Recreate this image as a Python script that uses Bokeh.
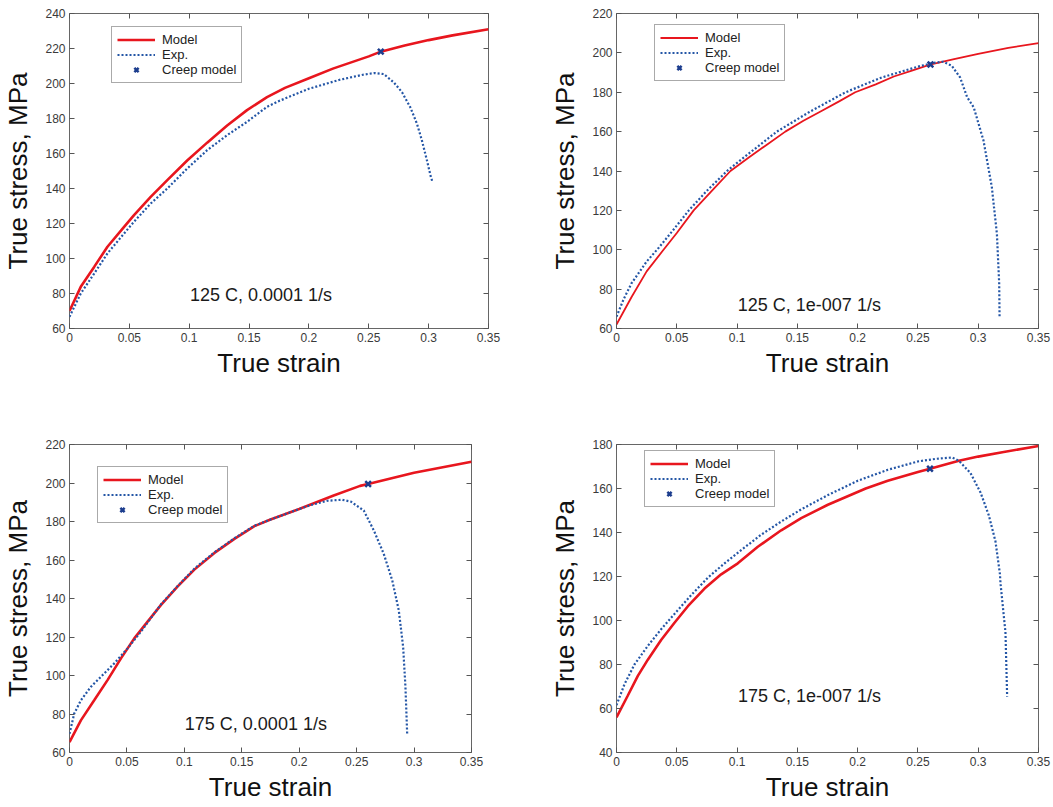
from bokeh.plotting import figure
from bokeh.models import (Range1d, FixedTicker, LinearAxis, Legend, LegendItem,
                          Label, CustomJSTickFormatter, CustomLabelingPolicy)
from bokeh.layouts import column, row
from bokeh.embed import file_html
from bokeh.resources import INLINE

# ---------------- data ----------------
x_ticks = [0, 0.05, 0.1, 0.15, 0.2, 0.25, 0.3, 0.35]

# Panel 1: 125 C, 0.0001 1/s
m1_x = [0, 0.0094, 0.0206, 0.0317, 0.0456, 0.0539, 0.0678, 0.0817, 0.0983, 0.115, 0.1317, 0.1483, 0.165, 0.18, 0.2, 0.22, 0.25, 0.26, 0.28, 0.3, 0.32, 0.35]
m1_y = [70, 83.8, 95.2, 106.7, 118.1, 124.8, 135.2, 144.8, 156, 166.2, 176, 184.8, 192.2, 197.5, 203, 208.5, 215.5, 218.2, 221.7, 224.8, 227.5, 231]
e1_x = [0, 0.0094, 0.0206, 0.0317, 0.0456, 0.0539, 0.0678, 0.0817, 0.0983, 0.115, 0.1317, 0.1483, 0.165, 0.175, 0.2, 0.225, 0.245, 0.255, 0.2625, 0.2708, 0.2778, 0.2847, 0.2903, 0.2944, 0.2986, 0.3019, 0.3033]
e1_y = [66.7, 80, 91.4, 102.9, 114.3, 121, 131.4, 140, 151.4, 161.9, 170.5, 178.1, 186.7, 190, 197, 202, 205, 206, 205.4, 200.7, 195, 186.4, 176.9, 167.4, 156, 146.5, 143.6]
c1 = (0.26, 218.2)

# Panel 2: 125 C, 1e-007 1/s
m2_x = [0, 0.0125, 0.025, 0.039, 0.05, 0.064, 0.08, 0.0945, 0.11, 0.125, 0.14, 0.155, 0.17, 0.185, 0.198, 0.215, 0.23, 0.245, 0.26, 0.28, 0.3, 0.325, 0.35]
m2_y = [62, 76, 89, 100, 108.5, 120, 130.5, 140, 147, 153.5, 160, 165.5, 170.5, 175.5, 180, 184, 188, 191, 194, 196.8, 199.5, 202.5, 205]
e2_x = [0, 0.006, 0.0125, 0.025, 0.035, 0.047, 0.06, 0.075, 0.0917, 0.11, 0.133, 0.16, 0.19, 0.22, 0.25, 0.262, 0.271, 0.278, 0.285, 0.2908, 0.2963, 0.3044, 0.3113, 0.3155, 0.3174, 0.3177]
e2_y = [66, 75, 83, 94, 101, 110, 120, 130, 140, 149, 160, 170, 180, 187.5, 193, 194.8, 195.5, 193.5, 187.5, 177.5, 172.3, 155.4, 131.8, 108.1, 82.8, 66.2]
c2 = (0.2604, 194.1)

# Panel 3: 175 C, 0.0001 1/s
m3_x = [0, 0.0099, 0.0215, 0.0331, 0.0448, 0.0564, 0.068, 0.0797, 0.0942, 0.1087, 0.1262, 0.1436, 0.161, 0.175, 0.2, 0.23, 0.253, 0.26, 0.3, 0.35]
m3_y = [65.4, 76.7, 87.1, 97.6, 108.9, 119.3, 128, 136.7, 146.3, 155, 163.7, 171, 177.6, 181, 186.5, 193.5, 198.5, 199.5, 205.3, 211]
e3_x = [0, 0.0041, 0.0099, 0.0186, 0.0273, 0.039, 0.0506, 0.0622, 0.0797, 0.0942, 0.1087, 0.1262, 0.1436, 0.161, 0.175, 0.2, 0.21, 0.225, 0.2374, 0.245, 0.2562, 0.265, 0.2736, 0.281, 0.2867, 0.2905, 0.2925, 0.294]
e3_y = [69.7, 80.2, 87.1, 94.1, 99.3, 106.3, 114.1, 122.8, 137, 146.5, 155.5, 164, 171.3, 177.8, 181, 186.5, 188.5, 190.8, 191.3, 190.3, 185.7, 175.3, 163.2, 149.4, 133.8, 114.7, 93.9, 69.7]
c3 = (0.26, 199.5)

# Panel 4: 175 C, 1e-007 1/s
m4_x = [0, 0.0094, 0.0177, 0.026, 0.037, 0.0481, 0.0592, 0.073, 0.0868, 0.1006, 0.1172, 0.1366, 0.1532, 0.1753, 0.2067, 0.225, 0.25, 0.26, 0.284, 0.3, 0.32, 0.35]
m4_y = [56, 65.9, 74.8, 82.2, 91.1, 99, 106.5, 114.5, 121, 126, 133.5, 141, 146.5, 152.6, 160, 163.5, 167.5, 169, 172.6, 174.5, 176.5, 179.3]
e4_x = [0, 0.0066, 0.0149, 0.026, 0.037, 0.0481, 0.0619, 0.0758, 0.0896, 0.1034, 0.12, 0.1366, 0.1532, 0.1753, 0.2, 0.225, 0.25, 0.265, 0.2784, 0.284, 0.2936, 0.3019, 0.3088, 0.3143, 0.318, 0.3185, 0.3226, 0.324]
e4_y = [61.5, 71, 80, 88.5, 96, 103, 111.5, 119.5, 126, 132, 139, 145, 150.5, 157, 163.5, 168.5, 172.3, 173.5, 174.1, 172.6, 167, 158.2, 147.8, 136, 121.2, 116.8, 94.6, 65.4]
c4 = (0.26, 169)

y1_ticks = list(range(60, 241, 20))
y2_ticks = list(range(60, 221, 20))
y3_ticks = list(range(60, 221, 20))
y4_ticks = list(range(40, 181, 20))

conditions = ["125 C, 0.0001 1/s", "125 C, 1e-007 1/s", "175 C, 0.0001 1/s", "175 C, 1e-007 1/s"]
legend_labels = ["Model", "Exp.", "Creep model"]

# ---------------- styling ----------------
FONT = "Liberation Sans"
RED = "#e8161e"
BLUE = "#2456a6"
XBLUE = "#1c3d8e"


def make_panel(w, h, borders, yr, yticks, mx, my, ex, ey, cp, cond, cond_pos,
               leg_loc, model_w=2.6):
    left, right, top, bottom = borders
    p = figure(width=w, height=h, output_backend="svg", toolbar_location=None,
               x_range=Range1d(0, 0.35), y_range=Range1d(*yr),
               min_border_left=left, min_border_right=right,
               min_border_top=top, min_border_bottom=bottom,
               background_fill_color="white", border_fill_color="white")
    p.grid.visible = False
    p.outline_line_color = "#666666"
    p.outline_line_width = 1

    xt = FixedTicker(ticks=x_ticks)
    yt = FixedTicker(ticks=yticks)
    fmt = CustomJSTickFormatter(code="return tick.toString()")
    for ax, tk in ((p.xaxis[0], xt), (p.yaxis[0], yt)):
        ax.ticker = tk
        ax.formatter = fmt
        ax.axis_line_color = None
        ax.major_tick_in = 5
        ax.major_tick_out = 0
        ax.major_tick_line_color = "#555555"
        ax.minor_tick_line_color = None
        ax.major_label_text_font = FONT
        ax.major_label_text_font_size = "12px"
        ax.major_label_text_color = "#3a3a3a"
        ax.major_label_standoff = 4
        ax.axis_label_text_font = FONT
        ax.axis_label_text_font_size = "26px"
        ax.axis_label_text_font_style = "normal"
        ax.axis_label_text_color = "#111111"
    p.xaxis[0].axis_label = "True strain"
    p.xaxis[0].axis_label_standoff = 3
    p.yaxis[0].axis_label = "True stress, MPa"
    p.yaxis[0].axis_label_standoff = 9

    # tick marks only (no labels) on the top and right sides
    for loc, tk in (("above", xt), ("right", yt)):
        ax = LinearAxis(ticker=tk, major_label_text_font_size="0px",
                        major_label_policy=CustomLabelingPolicy(code="return new Set()"),
                        axis_line_color=None, major_tick_in=5, major_tick_out=0,
                        major_tick_line_color="#555555", minor_tick_line_color=None)
        p.add_layout(ax, loc)

    r_model = p.line(mx, my, line_color=RED, line_width=model_w)
    r_exp = p.line(ex, ey, line_color=BLUE, line_width=2.2, line_dash="2 2")
    r_creep = p.scatter([cp[0]], [cp[1]], marker="x", size=8, line_width=2.5,
                        line_color=XBLUE)

    p.add_layout(Label(x=cond_pos[0], y=cond_pos[1], text=cond, text_font=FONT,
                       text_font_size="18px", text_color="#1a1a1a",
                       text_align="left", text_baseline="middle"))

    leg = Legend(items=[LegendItem(label=legend_labels[0], renderers=[r_model]),
                        LegendItem(label=legend_labels[1], renderers=[r_exp]),
                        LegendItem(label=legend_labels[2], renderers=[r_creep])],
                 location=leg_loc, orientation="vertical",
                 border_line_color="#555555", border_line_width=1.5,
                 background_fill_color="white", background_fill_alpha=1,
                 label_text_font=FONT, label_text_font_size="13px",
                 label_text_color="#222222",
                 glyph_width=38, glyph_height=15, label_height=15,
                 spacing=0, padding=5, label_standoff=7, margin=0)
    p.add_layout(leg)
    return p


p1 = make_panel(530, 420, (68, 42, 13, 92), (60, 240), y1_ticks,
                m1_x, m1_y, e1_x, e1_y, c1, conditions[0], (0.1006, 79), (42, 245))
p2 = make_panel(523, 420, (86, 15, 13, 92), (60, 220), y2_ticks,
                m2_x, m2_y, e2_x, e2_y, c2, conditions[1], (0.1006, 71.8), (38, 247),
                model_w=1.8)
p3 = make_panel(530, 387, (69, 59, 24, 55), (60, 220), y3_ticks,
                m3_x, m3_y, e3_x, e3_y, c3, conditions[2], (0.1004, 74.8), (28, 229))
p4 = make_panel(523, 387, (86, 15, 24, 47), (40, 180), y4_ticks,
                m4_x, m4_y, e4_x, e4_y, c4, conditions[3], (0.1007, 65.9), (28, 245))

layout = column(row(p1, p2, spacing=0), row(p3, p4, spacing=0), spacing=0)

open("out.html", "w").write(file_html(layout, INLINE))
